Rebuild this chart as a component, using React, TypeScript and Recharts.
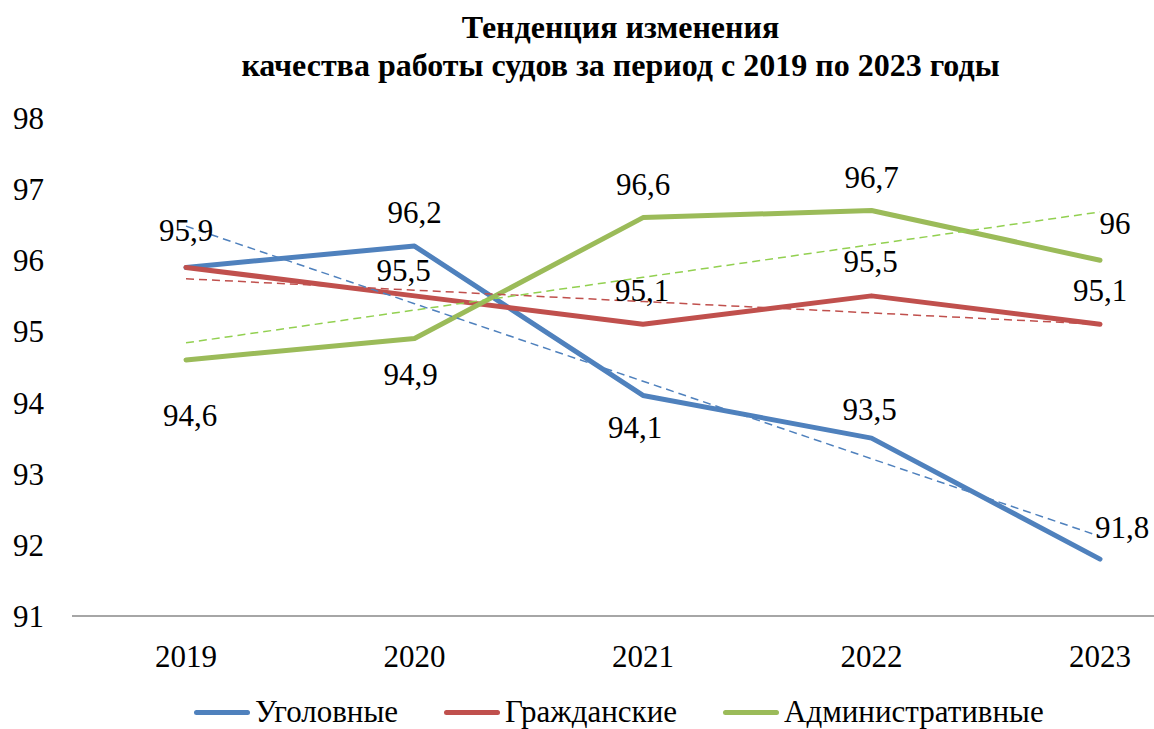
import React from 'react';
import { LineChart, Line, XAxis, YAxis, Legend, LabelList } from 'recharts';

const years = ['2019', '2020', '2021', '2022', '2023'];
const criminal = [95.9, 96.2, 94.1, 93.5, 91.8];
const civil = [95.9, 95.5, 95.1, 95.5, 95.1];
const admin = [94.6, 94.9, 96.6, 96.7, 96.0];
const criminalTrend = [96.48, 95.39, 94.3, 93.21, 92.12];
const civilTrend = [95.74, 95.58, 95.42, 95.26, 95.1];
const adminTrend = [94.84, 95.3, 95.76, 96.22, 96.68];
const yTicks = [91, 92, 93, 94, 95, 96, 97, 98];
const seriesNames = ['Уголовные', 'Гражданские', 'Административные'];
const titleLines = ['Тенденция изменения', 'качества работы судов за период с 2019 по 2023 годы'];

const COLORS = ['#4F81BD', '#C0504D', '#9BBB59'];
const TREND_COLORS = ['#4F81BD', '#C0504D', '#92D050'];
const FONT = 'Liberation Serif';
const FS = 31;

// label centre offsets from the point (dx, dy); null = no label
const labelOffsets: (number[] | null)[][] = [
  [[0, -37], [0, -34], [-8, 32], [-2, -29], [22, -32]],
  [null, [-11, -25], [-1, -34], [-1, -34], [0, -34]],
  [[4, 56], [-4, 36], [0, -33], [0, -33], [15, -37]],
];

const data = years.map((y, i) => ({
  year: y,
  criminal: criminal[i],
  civil: civil[i],
  admin: admin[i],
  criminalTrend: criminalTrend[i],
  civilTrend: civilTrend[i],
  adminTrend: adminTrend[i],
}));

const fmt = (v: number) => String(v).replace('.', ',');

const makeLabel = (s: number) => (props: any) => {
  const { x, y, value, index } = props;
  const off = labelOffsets[s][index];
  if (!off || x == null || y == null) return null;
  return (
    <text
      x={x + off[0]}
      y={y + off[1] + FS * 0.34}
      textAnchor="middle"
      style={{ fontFamily: FONT, fontSize: FS }}
      fill="#000"
    >
      {fmt(value)}
    </text>
  );
};

const LegendContent = () => (
  <div
    style={{
      display: 'flex',
      alignItems: 'center',
      height: 40,
      paddingLeft: 194,
      fontFamily: FONT,
      fontSize: FS,
      color: '#000',
      whiteSpace: 'nowrap',
    }}
  >
    {seriesNames.map((n, i) => (
      <div key={n} style={{ display: 'flex', alignItems: 'center', marginRight: 46 }}>
        <div style={{ width: 56, height: 5, borderRadius: 3, background: COLORS[i], marginRight: 5 }} />
        <span>{n}</span>
      </div>
    ))}
  </div>
);

const axisTick = { style: { fontFamily: FONT, fontSize: FS }, fill: '#000' };

export default function App() {
  return (
    <div style={{ position: 'absolute', left: 0, top: 0, width: 1154, height: 729, background: '#fff', overflow: 'hidden', fontFamily: FONT }}>
      <div
        style={{
          position: 'absolute',
          left: 0,
          top: 8,
          width: 1241,
          textAlign: 'center',
          fontFamily: FONT,
          fontWeight: 'bold',
          fontSize: 32,
          lineHeight: '38px',
          color: '#000',
          whiteSpace: 'nowrap',
        }}
      >
        {titleLines.map((t) => (
          <div key={t}>{t}</div>
        ))}
      </div>
      <LineChart width={1154} height={729} data={data} margin={{ top: 118, right: 0, bottom: 0, left: 0 }} style={{ fontFamily: FONT }}>
        <XAxis
          dataKey="year"
          padding={{ left: 114, right: 54 }}
          axisLine={{ stroke: '#898989', strokeWidth: 1.5 }}
          tickLine={false}
          tickSize={0}
          tickMargin={29}
          height={73}
          tick={axisTick}
        />
        <YAxis
          domain={[91, 98]}
          ticks={yTicks}
          interval={0}
          axisLine={false}
          tickLine={false}
          tickSize={0}
          tickMargin={28}
          width={72}
          tick={axisTick}
        />
        <Legend
          verticalAlign="bottom"
          content={() => <LegendContent />}
          wrapperStyle={{ left: 0, top: 692, bottom: 'auto', width: 1154, height: 40 }}
        />
        <Line dataKey="criminal" name={seriesNames[0]} stroke={COLORS[0]} strokeWidth={5} strokeLinecap="round" strokeLinejoin="round" dot={false} isAnimationActive={false}>
          <LabelList dataKey="criminal" content={makeLabel(0)} />
        </Line>
        <Line dataKey="civil" name={seriesNames[1]} stroke={COLORS[1]} strokeWidth={5} strokeLinecap="round" strokeLinejoin="round" dot={false} isAnimationActive={false}>
          <LabelList dataKey="civil" content={makeLabel(1)} />
        </Line>
        <Line dataKey="admin" name={seriesNames[2]} stroke={COLORS[2]} strokeWidth={5} strokeLinecap="round" strokeLinejoin="round" dot={false} isAnimationActive={false}>
          <LabelList dataKey="admin" content={makeLabel(2)} />
        </Line>
        <Line dataKey="criminalTrend" legendType="none" stroke={TREND_COLORS[0]} strokeWidth={1.5} strokeDasharray="8 5" dot={false} activeDot={false} isAnimationActive={false} />
        <Line dataKey="civilTrend" legendType="none" stroke={TREND_COLORS[1]} strokeWidth={1.5} strokeDasharray="8 5" dot={false} activeDot={false} isAnimationActive={false} />
        <Line dataKey="adminTrend" legendType="none" stroke={TREND_COLORS[2]} strokeWidth={1.5} strokeDasharray="8 5" dot={false} activeDot={false} isAnimationActive={false} />
      </LineChart>
    </div>
  );
}
